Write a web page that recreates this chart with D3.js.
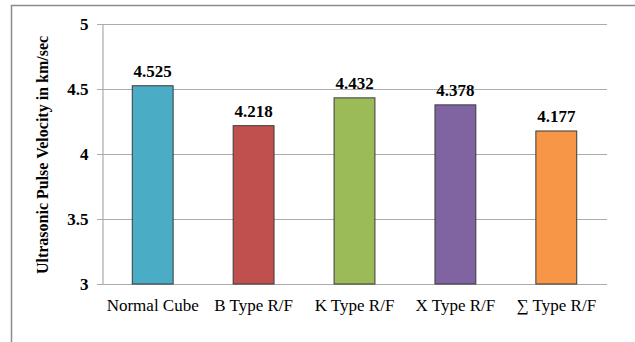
<!DOCTYPE html>
<html>
<head>
<meta charset="utf-8">
<script src="https://cdn.jsdelivr.net/npm/d3@7"></script>
<style>
  html, body { margin: 0; padding: 0; background: #fff; }
  svg { display: block; }
  svg text { font-family: "Liberation Serif", "Times New Roman", "DejaVu Serif", serif; }
</style>
</head>
<body>
<svg id="chart" width="635" height="342"></svg>
<script>
// Ultrasonic pulse velocity per specimen type
const categories = ["Normal Cube", "B Type R/F", "K Type R/F", "X Type R/F", "\u2211 Type R/F"];
const velocities = [4.525, 4.218, 4.432, 4.378, 4.177];
const barColors = ["#4BACC6", "#C0504D", "#9BBB59", "#8064A2", "#F79646"];
const yTicks = [3, 3.5, 4, 4.5, 5];
const yTickLabels = ["3", "3.5", "4", "4.5", "5"];
const yTitle = "Ultrasonic Pulse Velocity in km/sec";

const serif = "'Liberation Serif', 'Times New Roman', 'DejaVu Serif', serif";
const svg = d3.select("#chart");
const margin = { left: 102, right: 28, top: 24, bottom: 58 };
const W = 635, H = 342;

// outer chart frame
svg.append("rect")
  .attr("x", 11.5).attr("y", 5.5)
  .attr("width", 640).attr("height", 350)
  .attr("fill", "#fff").attr("stroke", "#8c8c8c").attr("stroke-width", 1.5);

const x = d3.scaleBand()
  .domain(categories)
  .range([margin.left, W - margin.right])
  .paddingInner(0.595).paddingOuter(0.3);

const y = d3.scaleLinear()
  .domain([3, 5])
  .range([H - margin.bottom, margin.top]);

// horizontal gridlines
svg.append("g")
  .selectAll("line")
  .data(yTicks)
  .join("line")
  .attr("x1", margin.left - 5)
  .attr("x2", W - margin.right)
  .attr("y1", d => Math.round(y(d)) + 0.5)
  .attr("y2", d => Math.round(y(d)) + 0.5)
  .attr("stroke", "#ababab").attr("stroke-width", 1.2);

// value axis line and tick labels
const yAxis = d3.axisLeft(y)
  .tickValues(yTicks)
  .tickFormat((d, i) => yTickLabels[i])
  .tickSize(0)
  .tickPadding(14);

const gy = svg.append("g")
  .attr("transform", `translate(${margin.left + 0.5},0)`)
  .call(yAxis)
  .attr("font-family", serif);
gy.select(".domain").attr("stroke", "#ababab").attr("stroke-width", 1.2);
gy.selectAll("text")
  .style("font-family", serif)
  .style("font-size", "17px").style("font-weight", "bold").attr("fill", "#000");

// bars
svg.append("g")
  .selectAll("rect")
  .data(velocities)
  .join("rect")
  .attr("x", (d, i) => x(categories[i]))
  .attr("width", x.bandwidth())
  .attr("y", d => y(d))
  .attr("height", d => y(3) - y(d))
  .attr("fill", (d, i) => barColors[i])
  .attr("stroke", "#3a3a3a").attr("stroke-width", 1);

// value labels
svg.append("g")
  .selectAll("text")
  .data(velocities)
  .join("text")
  .attr("x", (d, i) => x(categories[i]) + x.bandwidth() / 2)
  .attr("y", d => y(d) - 9)
  .attr("text-anchor", "middle")
  .style("font-family", serif)
  .style("font-size", "17px").style("font-weight", "bold").attr("fill", "#000")
  .text(d => d.toFixed(3));

// category axis labels
const xAxis = d3.axisBottom(x).tickSize(0).tickPadding(15);
const gx = svg.append("g")
  .attr("transform", `translate(0,${y(3)})`)
  .call(xAxis)
  .attr("font-family", serif);
gx.select(".domain").remove();
gx.selectAll("text")
  .style("font-family", serif)
  .style("font-size", "17px").attr("fill", "#000");

// value axis title
svg.append("text")
  .attr("transform", `translate(48,${(y(3) + y(5)) / 2 + 1}) rotate(-90)`)
  .attr("text-anchor", "middle")
  .style("font-family", serif)
  .style("font-size", "16px").style("font-weight", "bold").attr("fill", "#000")
  .text(yTitle);
</script>
</body>
</html>
